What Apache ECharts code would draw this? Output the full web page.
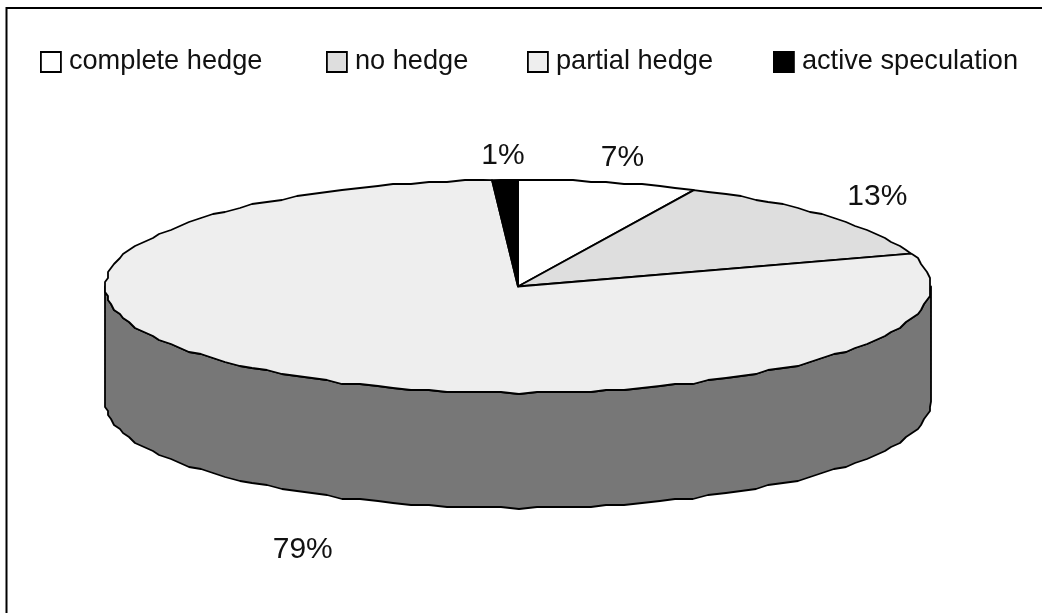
<!DOCTYPE html>
<html><head><meta charset="utf-8">
<style>html,body{margin:0;padding:0;background:#fff}#c{width:1042px;height:613px}</style>
<script src="https://cdn.jsdelivr.net/npm/echarts@6/dist/echarts.min.js"></script></head>
<body><div id="c"></div>
<script>
const categories = ['complete hedge','no hedge','partial hedge','active speculation'];
const shares = [7,13,79,1];
const colors = ['#ffffff','#dedede','#eeeeee','#000000'];
const wallColor = '#777777';
const disc = {cx:518, cy:286.5, rx:413, ry:106.5, depth:115, step:2.5, snapX:3, snapY:2};
const labelFit = {fx:1.16, fy:1.25};
const labelNudge = [[0,1],[0,-2],[54,38],[0,2]];
const legendLeft = [40,326,527,773];

const total = shares.reduce((a,b)=>a+b,0);
const rad = d=>d*Math.PI/180;
function exact(a){return [disc.cx+Math.sin(rad(a))*disc.rx, disc.cy-Math.cos(rad(a))*disc.ry];}
function pt(a,dy){
  const p = exact(a);
  return [Math.round(p[0]/disc.snapX)*disc.snapX, Math.round(p[1]/disc.snapY)*disc.snapY+(dy||0)];
}
function arc(a0,a1,dy){
  const out=[exact(a0)]; if(dy) out[0][1]+=dy;
  for(let a=Math.ceil(a0/disc.step+1e-6)*disc.step;a<a1-1e-6;a+=disc.step) out.push(pt(a,dy));
  const e=exact(a1); if(dy) e[1]+=dy; out.push(e);
  return out;
}
function makeRender(i){
  return function(params,api){
    const v=api.value(0);
    const before=shares.slice(0,i).reduce((a,b)=>a+b,0);
    const a0=before/total*360, a1=a0+v/total*360;
    const kids=[];
    const w0=Math.max(a0,90), w1=Math.min(a1,270);
    const ls={stroke:'#000',lineWidth:1.8,lineJoin:'round'};
    if(w1>w0){
      const top=arc(w0,w1), bot=arc(w0,w1,disc.depth).reverse();
      kids.push({type:'polygon',shape:{points:top.concat(bot)},style:Object.assign({fill:wallColor},ls)});
    }
    kids.push({type:'polygon',shape:{points:[[disc.cx,disc.cy]].concat(arc(a0,a1))},style:Object.assign({fill:api.visual('color')},ls)});
    const m=rad((a0+a1)/2), front=Math.cos(m)<0;
    kids.push({type:'text',style:{
      x:disc.cx+Math.sin(m)*disc.rx*labelFit.fx+labelNudge[i][0],
      y:disc.cy-Math.cos(m)*disc.ry*labelFit.fy+(front?disc.depth:0)+labelNudge[i][1],
      text:v+'%',fill:'#111',font:'30px "Liberation Sans"',align:'center',verticalAlign:'middle'}});
    return {type:'group',children:kids};
  };
}
const chart=echarts.init(document.getElementById('c'),null,{renderer:'canvas'});
chart.setOption({
  animation:false,
  backgroundColor:'#fff',
  graphic:[
    {type:'polyline',silent:true,shape:{points:[[6.5,620],[6.5,8],[1050,8]]},style:{stroke:'#000',lineWidth:2,fill:null}}
  ],
  legend:categories.map((c,i)=>({
    left:legendLeft[i],top:48.5,padding:0,itemWidth:20,itemHeight:20,
    data:[{name:c,icon:'rect',itemStyle:{color:colors[i],borderColor:'#000',borderWidth:1.8}}],
    textStyle:{fontFamily:'Liberation Sans',fontSize:27.2,color:'#111',padding:[0,0,0,3]},
    selectedMode:false
  })),
  series:categories.map((c,i)=>({
    type:'custom',name:c,coordinateSystem:'none',renderItem:makeRender(i),
    data:[[shares[i]]],itemStyle:{color:colors[i]},silent:true
  }))
});
</script></body></html>
